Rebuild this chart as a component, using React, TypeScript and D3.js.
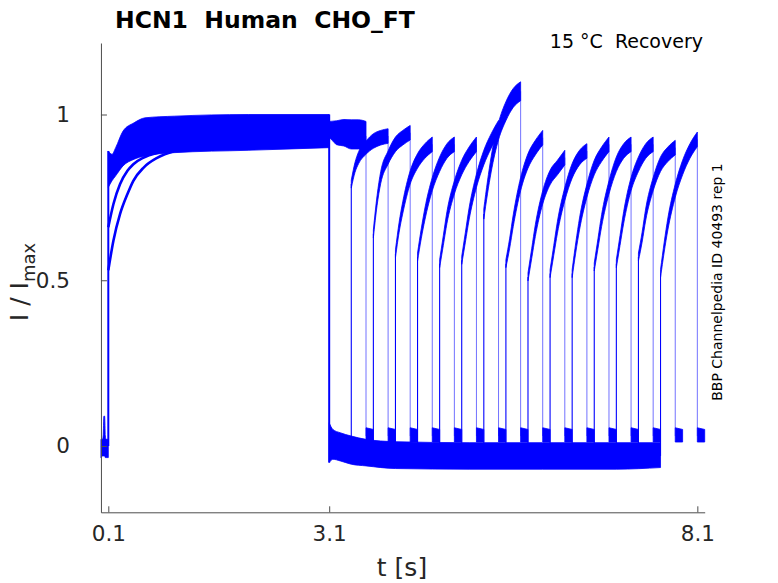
import { useEffect, useRef } from "react";
import * as d3 from "d3";

// axis ticks
const xTicks: number[] = [0.1, 3.1, 8.1];
const yTicks: number[] = [0, 0.5, 1];

// holding current before the first step (t < 0.1 s)
const preT: number[] = [0, 0.02, 0.03, 0.04, 0.05, 0.06, 0.07, 0.1];
const preHi: number[] = [0.02, 0.02, 0.03, 0.09, 0.09, 0.03, 0.02, 0.02];
const preLo: number[] = [-0.035, -0.03, -0.03, -0.03, -0.03, -0.035, -0.035, -0.035];

// activating pulse, band of the fast sweeps
const p1T: number[] = [0.1, 0.15, 0.2, 0.3, 0.45, 0.6, 1.0, 2.0, 3.1];
const p1Hi: number[] = [0.89, 0.88, 0.9, 0.95, 0.975, 0.99, 0.995, 1.0, 1.0];
const p1Lo: number[] = [0.78, 0.8, 0.815, 0.845, 0.865, 0.875, 0.885, 0.892, 0.9];

// the two slow sweeps of the activating pulse
const slowT: number[] = [0.1, 0.17, 0.26, 0.36, 0.44, 0.58, 0.77, 1.0];
const slowA: number[] = [0.53, 0.62, 0.7, 0.76, 0.8, 0.84, 0.87, 0.89];
const slowB: number[] = [0.66, 0.73, 0.79, 0.83, 0.85, 0.87, 0.885, 0.895];

// deactivated current between the pulses
const deactT: number[] = [3.1, 3.15, 3.25, 3.4, 3.6, 4.0, 5.0, 6.0, 7.0, 7.6];
const deactHi: number[] = [0.07, 0.05, 0.04, 0.03, 0.02, 0.013, 0.01, 0.01, 0.01, 0.01];
const deactLo: number[] = [-0.05, -0.04, -0.045, -0.055, -0.06, -0.068, -0.07, -0.07, -0.07, -0.065];

// test pulses: start times, time points inside the pulse, levels per sweep
const p2Start: number[] = [3.1, 3.4, 3.7, 4.0, 4.3, 4.6, 4.9, 5.2, 5.5, 5.8, 6.1, 6.4, 6.7, 7.0, 7.3, 7.6];
const p2Dt: number[] = [0, 0.05, 0.1, 0.2, 0.3, 0.4, 0.5];
const p2Noise: number[] = [0.012, 0.015, 0.018, 0.02, 0.022, 0.022, 0.022];
const p2Spread: number[] = [2, 1, 1, 1, 1, 1, 1, 1.3, 1, 1, 1, 1, 1, 1, 1, 1];
const p2Level: number[][] = [
  [0.955, 0.95, 0.945, 0.945, 0.94, 0.94, 0.935],
  [0.79, 0.84, 0.87, 0.9, 0.92, 0.93, 0.935],
  [0.64, 0.74, 0.81, 0.87, 0.91, 0.93, 0.945],
  [0.58, 0.66, 0.72, 0.81, 0.86, 0.89, 0.91],
  [0.57, 0.64, 0.7, 0.79, 0.85, 0.89, 0.91],
  [0.55, 0.62, 0.69, 0.78, 0.84, 0.88, 0.91],
  [0.56, 0.63, 0.7, 0.8, 0.87, 0.92, 0.96],
  [0.7, 0.78, 0.85, 0.95, 1.01, 1.05, 1.07],
  [0.55, 0.61, 0.68, 0.79, 0.86, 0.9, 0.93],
  [0.51, 0.58, 0.65, 0.75, 0.81, 0.84, 0.87],
  [0.52, 0.59, 0.66, 0.76, 0.83, 0.87, 0.89],
  [0.52, 0.6, 0.67, 0.77, 0.84, 0.88, 0.91],
  [0.54, 0.61, 0.68, 0.78, 0.85, 0.89, 0.91],
  [0.55, 0.62, 0.69, 0.79, 0.85, 0.89, 0.91],
  [0.57, 0.63, 0.7, 0.79, 0.85, 0.88, 0.9],
  [0.52, 0.6, 0.67, 0.77, 0.84, 0.89, 0.925],
];

// short tail after each test pulse
const tailDt: number[] = [0, 0.1];
const tailHi: number[] = [0.055, 0.05];
const tailLo: number[] = [0.012, 0.012];

type Pt = [number, number, number];

function App() {
  const svgRef = useRef<SVGSVGElement>(null);

  useEffect(() => {
    if (!svgRef.current) return;
    const svg = d3.select(svgRef.current);
    svg.selectAll("*").remove();

    const width = 778;
    const height = 583;
    svg.attr("width", width).attr("height", height);

    const x = d3.scaleLinear().domain([0, 8.2]).range([100.94, 704.7]);
    const y = d3.scaleLinear().domain([-0.2, 1.2157]).range([512.3, 43]);

    const blue = "#0000ff";
    const textColor = "#262626";
    const font = "DejaVu Sans";

    const g = svg.append("g");

    const band = d3
      .area<Pt>()
      .x((d) => x(d[0]))
      .y0((d) => y(d[2]))
      .y1((d) => y(d[1]))
      .curve(d3.curveMonotoneX);

    const line = d3
      .line<[number, number]>()
      .x((d) => x(d[0]))
      .y((d) => y(d[1]))
      .curve(d3.curveMonotoneX);

    const addBand = (t: number[], hi: number[], lo: number[]) => {
      g.append("path")
        .datum(t.map((v, i) => [v, hi[i], lo[i]] as Pt))
        .attr("d", band)
        .attr("fill", blue)
        .attr("stroke", blue)
        .attr("stroke-width", 0.8);
    };

    const addLine = (t: number[], v: number[], w: number) => {
      g.append("path")
        .datum(t.map((tt, i) => [tt, v[i]] as [number, number]))
        .attr("d", line)
        .attr("fill", "none")
        .attr("stroke", blue)
        .attr("stroke-width", w);
    };

    const addStep = (t: number, a: number, b: number, w: number, op: number) => {
      g.append("line")
        .attr("x1", x(t))
        .attr("x2", x(t))
        .attr("y1", y(a))
        .attr("y2", y(b))
        .attr("stroke", blue)
        .attr("stroke-width", w)
        .attr("opacity", op);
    };

    // before the step
    addBand(preT, preHi, preLo);

    // activating pulse
    addStep(p1T[0], 0, p1Hi[0], 2, 1);
    addBand(p1T, p1Hi, p1Lo);
    addLine(slowT, slowA, 2.6);
    addLine(slowT, slowB, 2.6);

    // deactivation at 3.1 s
    addBand(deactT, deactHi, deactLo);
    addStep(deactT[0], 1.0, -0.05, 2, 1);

    // test pulses
    p2Start.forEach((t0, k) => {
      const lv = p2Level[k];
      const s = p2Spread[k];
      const t = p2Dt.map((d) => t0 + d);
      addBand(
        t,
        lv.map((v, i) => v + p2Noise[i] * s),
        lv.map((v, i) => v - p2Noise[i] * s)
      );
      const tEnd = t[t.length - 1];
      if (k > 0) addStep(t0, -0.03, lv[0], 1.1, 1);
      addStep(tEnd, lv[lv.length - 1], 0.03, 1, 0.55);
      addBand(
        tailDt.map((d) => tEnd + d),
        tailHi,
        tailLo
      );
    });

    // axes
    const xAxis = d3.axisBottom(x).tickValues(xTicks).tickSizeInner(-6).tickSizeOuter(0).tickPadding(13)
      .tickFormat((d) => d3.format(".1f")(d as number));
    const yAxis = d3.axisLeft(y).tickValues(yTicks).tickSizeInner(-6).tickSizeOuter(0).tickPadding(31)
      .tickFormat((d) => String(d));

    const gx = svg.append("g").attr("transform", `translate(0,${y(-0.2)})`).call(xAxis);
    const gy = svg.append("g").attr("transform", `translate(${x(0)},0)`).call(yAxis);

    [gx, gy].forEach((ax) => {
      ax.attr("font-family", font).attr("font-size", 21.5);
      ax.selectAll("path, line").attr("stroke", "#4d4d4d");
      ax.selectAll("text").attr("fill", textColor);
    });

    // titles and labels
    svg.append("text")
      .attr("x", 115).attr("y", 28)
      .attr("font-family", font).attr("font-size", 23.5).attr("font-weight", "bold")
      .attr("fill", "#000").style("white-space", "pre")
      .text("HCN1  Human  CHO_FT");

    svg.append("text")
      .attr("x", 703).attr("y", 48).attr("text-anchor", "end")
      .attr("font-family", font).attr("font-size", 19)
      .attr("fill", "#000").style("white-space", "pre")
      .text("15 °C  Recovery");

    svg.append("text")
      .attr("x", 402).attr("y", 576).attr("text-anchor", "middle")
      .attr("font-family", font).attr("font-size", 25)
      .attr("fill", textColor)
      .text("t [s]");

    const yl = svg.append("text")
      .attr("transform", "translate(28,282) rotate(-90)")
      .attr("text-anchor", "middle")
      .attr("font-family", font).attr("font-size", 25)
      .attr("fill", textColor);
    yl.append("tspan").text("I / I");
    yl.append("tspan").attr("font-size", 18).attr("dy", 7).text("max");

    svg.append("text")
      .attr("transform", "translate(722,282) rotate(-90)")
      .attr("text-anchor", "middle")
      .attr("font-family", font).attr("font-size", 14)
      .attr("fill", "#000")
      .text("BBP Channelpedia ID 40493 rep 1");
  }, []);

  return (
    <svg
      ref={svgRef}
      style={{ position: "absolute", left: 0, top: 0, background: "#fff" }}
    ></svg>
  );
}

export default App;
